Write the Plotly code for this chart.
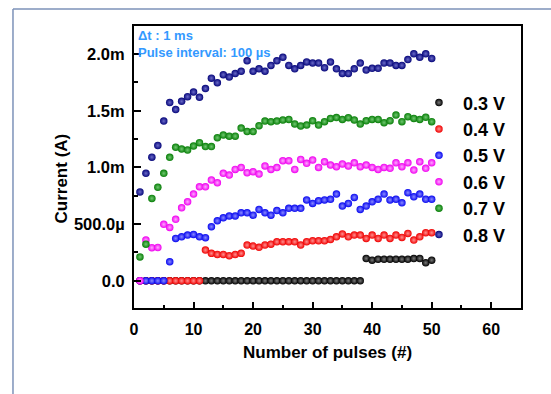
import plotly.graph_objects as go

pulses = list(range(1, 51))
labels = ["0.3 V", "0.4 V", "0.5 V", "0.6 V", "0.7 V", "0.8 V"]

# Current values in mA
i_03 = [0, 0, 0, 0, 0, 0, 0, 0, 0, 0, 0, 0, 0, 0, 0, 0, 0, 0, 0, 0,
        0, 0, 0, 0, 0, 0, 0, 0, 0, 0, 0, 0, 0, 0, 0, 0, 0, 0,
        0.197, 0.182, 0.190, 0.190, 0.190, 0.190, 0.190, 0.190, 0.197, 0.197, 0.159, 0.182]
i_04 = [0, 0, 0, 0, 0, 0, 0, 0, 0, 0, 0,
        0.271, 0.242, 0.232, 0.232, 0.221, 0.232, 0.242, 0.315, 0.306, 0.295,
        0.315, 0.323, 0.344, 0.344, 0.344, 0.344, 0.315, 0.344, 0.353, 0.353,
        0.353, 0.365, 0.388, 0.413, 0.388, 0.403, 0.403, 0.374, 0.403, 0.374,
        0.403, 0.374, 0.403, 0.383, 0.418, 0.359, 0.388, 0.424, 0.424]
i_05 = [0, 0, 0, 0, 0,
        0.168, 0.374, 0.388, 0.403, 0.409, 0.388, 0.380, 0.477, 0.529, 0.556,
        0.571, 0.571, 0.600, 0.600, 0.579, 0.630, 0.600, 0.579, 0.620, 0.600,
        0.639, 0.639, 0.639, 0.713, 0.683, 0.706, 0.713, 0.719, 0.765, 0.659,
        0.683, 0.736, 0.630, 0.659, 0.697, 0.719, 0.765, 0.713, 0.719, 0.688,
        0.777, 0.741, 0.765, 0.719, 0.719]
i_06 = [0,
        0.359, 0.292, 0.294, 0.498, 0.471, 0.542, 0.644, 0.697, 0.765, 0.829,
        0.829, 0.889, 0.865, 0.948, 0.933, 0.983, 1.000, 0.953, 0.962, 0.942,
        1.013, 0.983, 0.999, 1.059, 1.059, 0.983, 1.071, 1.036, 1.065, 1.000,
        1.050, 1.021, 1.006, 1.030, 1.013, 1.041, 1.006, 1.021, 1.000, 0.983,
        1.000, 0.992, 1.041, 1.006, 1.041, 0.977, 1.050, 0.992, 1.041]
i_07 = [0.211, 0.323, 0.727, 0.825, 0.948, 1.089, 1.178, 1.163, 1.153, 1.189,
        1.219, 1.184, 1.184, 1.262, 1.286, 1.276, 1.276, 1.347, 1.317, 1.317,
        1.368, 1.409, 1.404, 1.409, 1.419, 1.424, 1.383, 1.366, 1.374, 1.412,
        1.374, 1.404, 1.433, 1.440, 1.424, 1.439, 1.419, 1.383, 1.412, 1.424,
        1.424, 1.395, 1.412, 1.462, 1.404, 1.448, 1.433, 1.424, 1.443, 1.404]
i_08 = [0.784, 0.948, 1.091, 1.194, 1.409, 1.573, 1.511, 1.583, 1.624, 1.665,
        1.619, 1.696, 1.788, 1.747, 1.818, 1.798, 1.829, 1.849, 1.941, 1.849,
        1.870, 1.849, 1.900, 1.941, 1.972, 1.900, 1.870, 1.900, 1.931, 1.921,
        1.921, 1.880, 1.931, 1.870, 1.829, 1.829, 1.870, 1.921, 1.859, 1.875,
        1.875, 1.921, 1.921, 1.900, 1.900, 1.952, 2.003, 1.972, 2.003, 1.962]

series = [i_03, i_04, i_05, i_06, i_07, i_08]
colors = ["#000000", "#F00000", "#0808F0", "#F000F0", "#087E08", "#06067A"]
highlights = ["#7a7a7a", "#ff9090", "#8a8aff", "#ffa8ff", "#70c870", "#6a6ac8"]

y_tickvals = [0, 0.5, 1.0, 1.5, 2.0]
y_ticktext = ["0.0", "500.0µ", "1.0m", "1.5m", "2.0m"]
x_tickvals = [0, 10, 20, 30, 40, 50, 60]

fig = go.Figure()
for lab, ys, c, h in zip(labels, series, colors, highlights):
    fig.add_trace(go.Scatter(
        x=pulses, y=ys, mode="markers", name=lab,
        marker=dict(size=7.5, color=c, line=dict(width=0),
                    gradient=dict(type="radial", color=h)),
    ))

bold = 700
fig.update_layout(
    width=551, height=394,
    margin=dict(l=134, r=30, t=26, b=85.5),
    paper_bgcolor="white", plot_bgcolor="white",
    font=dict(family="Arial", size=16, color="black", weight=bold),
    showlegend=True,
    legend=dict(x=0.726, y=0.793, xanchor="left", yanchor="top",
                bgcolor="rgba(0,0,0,0)", itemwidth=38,
                font=dict(family="Arial", size=18, color="black", weight=bold)),
    xaxis=dict(range=[0, 65], tickvals=x_tickvals, showgrid=False, zeroline=False,
               showline=True, linewidth=2, linecolor="black", mirror=True,
               ticks="inside", ticklen=6, tickwidth=2, tickcolor="black",
               minor=dict(ticks="inside", ticklen=3, tickwidth=2, dtick=5, tick0=0,
                          tickcolor="black", showgrid=False),
               tickfont=dict(family="Arial", size=16, weight=bold), ticklabelstandoff=6),
    yaxis=dict(range=[-0.24, 2.248], tickvals=y_tickvals, ticktext=y_ticktext,
               showgrid=False, zeroline=False,
               showline=True, linewidth=2, linecolor="black", mirror=True,
               ticks="inside", ticklen=7, tickwidth=2, tickcolor="black",
               minor=dict(ticks="inside", ticklen=4, tickwidth=2, dtick=0.25, tick0=0,
                          tickcolor="black", showgrid=False),
               tickfont=dict(family="Arial", size=16.5, weight=bold), ticklabelstandoff=4),
    annotations=[
        dict(text="Δt : 1 ms", x=0.004, y=0.968, xref="paper", yref="paper",
             xanchor="left", yanchor="middle", showarrow=False,
             font=dict(family="Arial", size=13, color="#3399FF", weight=bold)),
        dict(text="Pulse interval: 100 µs", x=0.004, y=0.905, xref="paper", yref="paper",
             xanchor="left", yanchor="middle", showarrow=False,
             font=dict(family="Arial", size=13, color="#3399FF", weight=bold)),
        dict(text="Number of pulses (#)", x=0.5, y=-0.159, xref="paper", yref="paper",
             xanchor="center", yanchor="middle", showarrow=False,
             font=dict(family="Arial", size=17, color="black", weight=bold)),
        dict(text="Current (A)", x=-0.187, y=0.458, xref="paper", yref="paper",
             xanchor="center", yanchor="middle", showarrow=False, textangle=-90,
             font=dict(family="Arial", size=17, color="black", weight=bold)),
    ],
    shapes=[
        dict(type="line", xref="paper", yref="paper", x0=-0.3127, x1=-0.3127,
             y0=1.0602, y1=-0.45, line=dict(color="#7D92B9", width=1.5)),
        dict(type="line", xref="paper", yref="paper", x0=-0.3127, x1=1.2,
             y0=1.0602, y1=1.0602, line=dict(color="#7D92B9", width=1.5)),
    ],
)

fig.write_html("out.html")
